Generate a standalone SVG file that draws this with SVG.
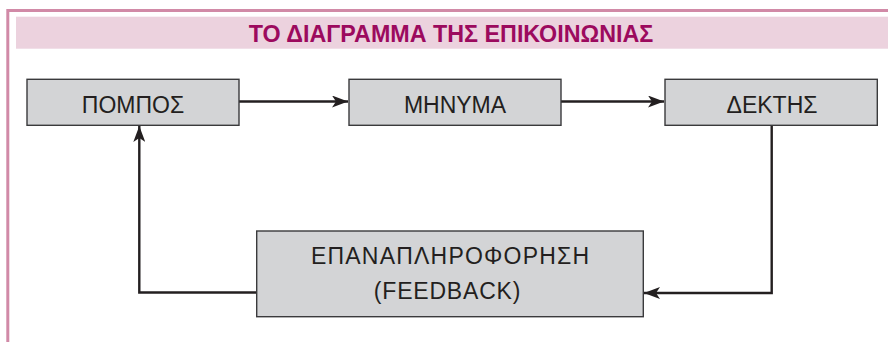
<svg xmlns="http://www.w3.org/2000/svg" width="888" height="342" viewBox="0 0 888 342">
<style>
.frame{fill:none;stroke:#D18AA7;stroke-width:3}
.band{fill:#ECD2DE}
.title{font-family:"Liberation Sans",Arial,sans-serif;font-weight:bold;font-size:23.3px;fill:#9C0A5E;text-anchor:middle}
.box{fill:#D3D4D6;stroke:#3A3A3C;stroke-width:1.4}
.lbl{font-family:"Liberation Sans",Arial,sans-serif;font-size:23px;fill:#231F20;text-anchor:middle}
.conn{fill:none;stroke:#231F20;stroke-width:2.4}
</style>
<defs>
<marker id="ah" viewBox="0 0 16 12" refX="16" refY="6" markerWidth="16" markerHeight="12" markerUnits="userSpaceOnUse" orient="auto">
<path d="M0,0 L16,6 L0,12 L4,6 Z" fill="#231F20"/>
</marker>
</defs>
<path class="frame" d="M7.8,342 V10.5 H888"/>
<rect class="band" x="16" y="16.7" width="872" height="32"/>
<text class="title" x="451" y="41.5">ΤΟ ΔΙΑΓΡΑΜΜΑ ΤΗΣ ΕΠΙΚΟΙΝΩΝΙΑΣ</text>
<g id="connectors">
<line class="conn" x1="239" y1="101.5" x2="348" y2="101.5" marker-end="url(#ah)"/>
<line class="conn" x1="561" y1="101.5" x2="664" y2="101.5" marker-end="url(#ah)"/>
<polyline class="conn" points="771.7,125 771.7,293 644,293" marker-end="url(#ah)"/>
<polyline class="conn" points="256.7,292.5 139.3,292.5 139.3,126" marker-end="url(#ah)"/>
</g>
<g id="pompos">
<rect class="box" x="27" y="79.3" width="212" height="46"/>
<text class="lbl" x="133" y="112.5">ΠΟΜΠΟΣ</text>
</g>
<g id="minyma">
<rect class="box" x="349" y="79.3" width="212" height="46"/>
<text class="lbl" x="455" y="112.5">ΜΗΝΥΜΑ</text>
</g>
<g id="dektis">
<rect class="box" x="665" y="79.3" width="212.3" height="46"/>
<text class="lbl" x="772" y="112.5">ΔΕΚΤΗΣ</text>
</g>
<g id="feedback">
<rect class="box" x="256.7" y="231" width="386.6" height="85.7"/>
<text class="lbl" x="450.6" y="263.5" letter-spacing="1.2">ΕΠΑΝΑΠΛΗΡΟΦΟΡΗΣΗ</text>
<text class="lbl" x="447.5" y="299" letter-spacing="0.8">(FEEDBACK)</text>
</g>
</svg>
